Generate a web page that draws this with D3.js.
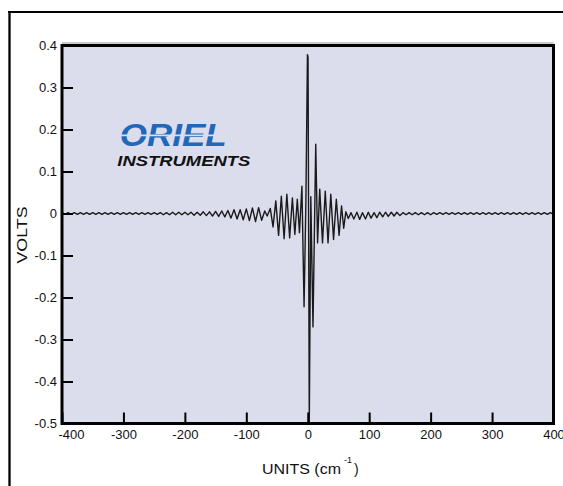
<!DOCTYPE html>
<html>
<head>
<meta charset="utf-8">
<script src="https://cdn.jsdelivr.net/npm/d3@7"></script>
<style>
  html, body { margin: 0; padding: 0; background: #ffffff; }
  svg { display: block; }
</style>
</head>
<body>
<svg id="chart" width="563" height="486"></svg>
<script>
// ---------------- data ----------------
const xTickValues = [-400, -300, -200, -100, 0, 100, 200, 300, 400];
const xTickLabels = ["-400", "-300", "-200", "-100", "0", "100", "200", "300", "400"];
const yTickValues = [0.4, 0.3, 0.2, 0.1, 0, -0.1, -0.2, -0.3, -0.4, -0.5];
const yTickLabels = ["0.4", "0.3", "0.2", "0.1", "0", "-0.1", "-0.2", "-0.3", "-0.4", "-0.5"];

const xTitle = "UNITS (cm";
const xTitleSup = "-1";
const yTitle = "VOLTS";
const logoTop = "ORIEL";
const logoBottom = "INSTRUMENTS";

// interferogram, [units, volts]
const leftTail = [
  [-400, 0.002], [-395, -0.002], [-390, 0.002], [-385, -0.002], [-380, 0.002], [-375, -0.002],
  [-370, 0.002], [-365, -0.002], [-360, 0.002], [-355, -0.002], [-350, 0.002], [-345, -0.002],
  [-340, 0.002], [-335, -0.002], [-330, 0.002], [-325, -0.002], [-320, 0.002], [-315, -0.002],
  [-310, 0.002], [-305, -0.002], [-300, 0.002], [-295, -0.002], [-290, 0.002], [-285, -0.002],
  [-280, 0.002], [-275, -0.002], [-270, 0.002], [-265, -0.002], [-260, 0.002], [-255, -0.002],
  [-250, 0.002], [-245, -0.002], [-240, 0.002], [-235, -0.003], [-230, 0.002], [-225, -0.003],
  [-220, 0.003], [-215, -0.003], [-210, 0.003], [-205, -0.003], [-200, 0.003], [-195, -0.003],
  [-190, 0.003], [-185, -0.004], [-180, 0.003], [-175, -0.004], [-170, 0.004], [-165, -0.005],
  [-160, 0.004], [-155, -0.006], [-150, 0.005], [-145, -0.007], [-140, 0.006], [-135, -0.008]
];
const leftSmallPacket = [
  [-130, 0.007], [-125, -0.011], [-120, 0.009], [-115, -0.013], [-110, 0.009], [-105, -0.015],
  [-100, 0.011], [-95, -0.017], [-90, 0.013], [-85, -0.019], [-80, 0.014], [-75, -0.016],
  [-70, 0.006], [-66, -0.006]
];
const centralBurst = [
  [-61, 0.012], [-56.5, -0.032], [-52, 0.030], [-47.5, -0.052], [-43, 0.041], [-38.5, -0.060],
  [-34, 0.046], [-29.5, -0.058], [-25, 0.037], [-21, -0.050], [-17, 0.034], [-13.5, -0.046],
  [-9.5, 0.065], [-6, -0.222], [-3, 0.030], [-0.5, 0.378], [0.5, 0.372], [2.5, -0.500], [5, 0.040],
  [8.5, -0.270], [13, 0.165], [16, -0.070], [19.5, 0.058], [24, -0.070], [28.5, 0.053],
  [33, -0.070], [37.5, 0.046], [42, -0.062], [46.5, 0.034], [51, -0.052], [55, 0.018],
  [58.5, -0.035], [62, 0.004]
];
const rightSmallPacket = [
  [66, -0.012], [70.5, 0.002], [75, -0.013], [80, 0.003], [84.5, -0.014], [89, 0.002],
  [94, -0.013], [98.5, 0.003], [103, -0.011], [108, 0.002], [112.5, -0.010], [117, 0.003],
  [122, -0.008], [126.5, 0.003], [131, -0.007], [136, 0.003], [140.5, -0.006], [145, 0.003],
  [150, -0.005]
];
const rightTail = [
  [155, 0.002], [160, -0.003], [165, 0.002], [170, -0.003], [175, 0.002], [180, -0.003],
  [185, 0.002], [190, -0.003], [195, 0.002], [200, -0.003], [205, 0.002], [210, -0.002],
  [215, 0.002], [220, -0.002], [225, 0.002], [230, -0.002], [235, 0.002], [240, -0.002],
  [245, 0.002], [250, -0.002], [255, 0.002], [260, -0.002], [265, 0.002], [270, -0.002],
  [275, 0.002], [280, -0.002], [285, 0.002], [290, -0.002], [295, 0.002], [300, -0.002],
  [305, 0.002], [310, -0.002], [315, 0.002], [320, -0.002], [325, 0.002], [330, -0.002],
  [335, 0.002], [340, -0.002], [345, 0.002], [350, -0.002], [355, 0.002], [360, -0.002],
  [365, 0.002], [370, -0.002], [375, 0.002], [380, -0.002], [385, 0.002], [390, -0.002],
  [395, 0.002], [400, -0.002]
];

// ---------------- layout ----------------
const svg = d3.select("#chart");
const plot = { left: 62, right: 553.5, top: 45.5, bottom: 423.5 };

const x = d3.scaleLinear().domain([-400, 400]).range([plot.left, plot.right]);
const y = d3.scaleLinear().domain([-0.5, 0.4]).range([plot.bottom, plot.top]);

// outer frame (continues past the window)
svg.append("line").attr("x1", 8).attr("x2", 563).attr("y1", 12).attr("y2", 12)
  .attr("stroke", "#000").attr("stroke-width", 2);
svg.append("line").attr("x1", 9.5).attr("x2", 9.5).attr("y1", 11).attr("y2", 486)
  .attr("stroke", "#000").attr("stroke-width", 2.3);

// plot background
svg.append("line").attr("x1", plot.left).attr("x2", plot.right).attr("y1", plot.top - 2.5).attr("y2", plot.top - 2.5)
  .attr("stroke", "#b8b8b8").attr("stroke-width", 1.5);
svg.append("rect")
  .attr("x", plot.left).attr("y", plot.top)
  .attr("width", plot.right - plot.left).attr("height", plot.bottom - plot.top)
  .attr("fill", "#dbdcec");

// logo
const logo = svg.append("g");
logo.append("text")
  .attr("x", x(-306)).attr("y", y(0.160))
  .attr("font-family", "Liberation Sans, Arial, sans-serif")
  .attr("font-weight", "bold").attr("font-style", "italic")
  .attr("font-size", 32)
  .attr("textLength", 107).attr("lengthAdjust", "spacingAndGlyphs")
  .attr("fill", "#2168b8")
  .text(logoTop);
logo.append("line")
  .attr("x1", x(-310)).attr("x2", x(-130)).attr("y1", y(0.186)).attr("y2", y(0.186))
  .attr("stroke", "#dbdcec").attr("stroke-width", 1.6);
logo.append("text")
  .attr("x", x(-310)).attr("y", y(0.112))
  .attr("font-family", "Liberation Sans, Arial, sans-serif")
  .attr("font-weight", "bold").attr("font-style", "italic")
  .attr("font-size", 14)
  .attr("textLength", 133).attr("lengthAdjust", "spacingAndGlyphs")
  .attr("fill", "#111")
  .text(logoBottom);

// signal
const signal = [].concat(leftTail, leftSmallPacket, centralBurst, rightSmallPacket, rightTail);
svg.append("defs").append("clipPath").attr("id", "clip")
  .append("rect").attr("x", plot.left).attr("y", plot.top)
  .attr("width", plot.right - plot.left).attr("height", plot.bottom - plot.top);
svg.append("path")
  .datum(signal)
  .attr("clip-path", "url(#clip)")
  .attr("fill", "none")
  .attr("stroke", "#1a1a1a")
  .attr("stroke-width", 1.4)
  .attr("stroke-linejoin", "round")
  .attr("d", d3.line().x(d => x(d[0])).y(d => y(d[1])));

// axes
const fontFamily = "Liberation Sans, Arial, sans-serif";
const yAxis = d3.axisLeft(y)
  .tickValues(yTickValues)
  .tickFormat((d, i) => yTickLabels[i])
  .tickSizeInner(-11).tickSizeOuter(0).tickPadding(5);
const gy = svg.append("g").attr("transform", `translate(${plot.left},0)`).call(yAxis);

const xAxis = d3.axisBottom(x)
  .tickValues(xTickValues)
  .tickFormat((d, i) => xTickLabels[i])
  .tickSizeInner(-11).tickSizeOuter(0).tickPadding(6);
const gx = svg.append("g").attr("transform", `translate(0,${plot.bottom})`).call(xAxis);

[gx, gy].forEach(g => {
  g.select(".domain").remove();
  g.selectAll(".tick line").attr("stroke", "#000").attr("stroke-width", 2);
  g.selectAll(".tick text").attr("fill", "#111")
    .attr("font-family", fontFamily).attr("font-size", 13);
});
gx.selectAll(".tick text").filter(d => d === -400).attr("dx", 9);

// plot border
svg.append("rect")
  .attr("x", plot.left).attr("y", plot.top)
  .attr("width", plot.right - plot.left).attr("height", plot.bottom - plot.top)
  .attr("fill", "none").attr("stroke", "#000").attr("stroke-width", 3);

// axis titles
const xt = svg.append("text")
  .attr("x", 262).attr("y", 474)
  .attr("font-family", fontFamily).attr("font-size", 14).attr("fill", "#111");
xt.append("tspan").text(xTitle).attr("textLength", 79).attr("lengthAdjust", "spacingAndGlyphs");
xt.append("tspan").attr("dy", -11).attr("dx", 3).attr("font-size", 9).text(xTitleSup);
xt.append("tspan").attr("dy", 11).attr("dx", 2).text(")");

svg.append("text")
  .attr("transform", `translate(27,235) rotate(-90)`)
  .attr("text-anchor", "middle")
  .attr("font-family", fontFamily).attr("font-size", 14.5).attr("fill", "#111")
  .attr("textLength", 57).attr("lengthAdjust", "spacingAndGlyphs")
  .text(yTitle);
</script>
</body>
</html>
